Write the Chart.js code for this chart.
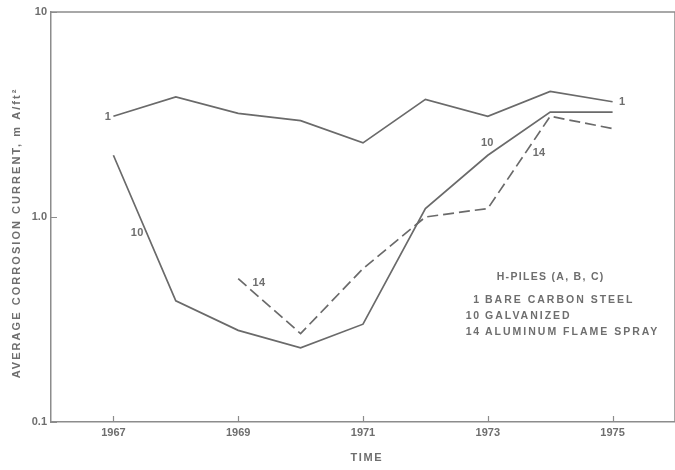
<!DOCTYPE html>
<html>
<head>
<meta charset="utf-8">
<script src="https://cdn.jsdelivr.net/npm/chart.js@4/dist/chart.umd.min.js"></script>
<style>
  html, body { margin: 0; padding: 0; background: #ffffff; overflow: hidden; }
  #wrap { width: 675px; height: 470px; }
</style>
</head>
<body>
<div id="wrap"><canvas id="c" width="675" height="470"></canvas></div>
<script>
// Survey years and average corrosion current (mA/ft²) for each H-pile coating
const years = [1967, 1968, 1969, 1970, 1971, 1972, 1973, 1974, 1975];
const bareCarbonSteel = [3.1, 3.85, 3.2, 2.95, 2.3, 3.75, 3.1, 4.1, 3.65];
const galvanized = [2.0, 0.39, 0.28, 0.23, 0.30, 1.1, 2.0, 3.25, 3.25];
const aluminumFlameSpray = [null, null, 0.5, 0.27, 0.56, 1.0, 1.1, 3.1, 2.7];

const yearTicks = [1967, 1969, 1971, 1973, 1975];
const currentTicks = [0.1, 1, 10];
const currentTickLabels = ['0.1', '1.0', '10'];

const legendTitle = 'H-PILES (A, B, C)';
const legendNumbers = ['1', '10', '14'];
const legendNames = ['BARE CARBON STEEL', 'GALVANIZED', 'ALUMINUM FLAME SPRAY'];

const INK = '#6a6a6a';
const TEXT = '#6e6e6e';
const FONT = '"Liberation Sans", Arial, sans-serif';

function points(values) {
  return years.map((yr, i) => ({ x: yr, y: values[i] }));
}

// Curve tags placed next to the lines, in data coordinates
const curveTags = [
  { text: '1', x: 1966.91, y: 3.07 },
  { text: '1', x: 1975.15, y: 3.64 },
  { text: '10', x: 1967.38, y: 0.835 },
  { text: '10', x: 1972.99, y: 2.29 },
  { text: '14', x: 1969.33, y: 0.476 },
  { text: '14', x: 1973.82, y: 2.05 }
];

function spacedText(ctx, str, x, y, spacing, align) {
  ctx.save();
  ctx.letterSpacing = spacing + 'px';
  let w = ctx.measureText(str).width;
  if ('letterSpacing' in ctx) w -= spacing; // trailing gap
  let sx = x;
  if (align === 'center') sx = x - w / 2;
  else if (align === 'right') sx = x - w;
  ctx.textAlign = 'left';
  ctx.fillText(str, sx, y);
  ctx.restore();
}

const decorations = {
  id: 'decorations',
  afterDatasetsDraw(chart) {
    const { ctx, chartArea: a, scales } = chart;
    const xs = scales.x, ys = scales.y;
    ctx.save();

    // top and right frame
    ctx.strokeStyle = '#8c8c8c';
    ctx.lineWidth = 1.5;
    ctx.beginPath();
    ctx.moveTo(a.left, a.top);
    ctx.lineTo(a.right, a.top);
    ctx.lineTo(a.right, a.bottom);
    ctx.stroke();

    // inward tick marks
    ctx.lineWidth = 1.2;
    ctx.beginPath();
    yearTicks.forEach(v => {
      const px = Math.round(xs.getPixelForValue(v)) + 0.5;
      ctx.moveTo(px, a.bottom);
      ctx.lineTo(px, a.bottom - 6);
    });
    currentTicks.forEach(v => {
      const py = Math.round(ys.getPixelForValue(v)) + 0.5;
      ctx.moveTo(a.left, py);
      ctx.lineTo(a.left + 6, py);
    });
    ctx.stroke();

    ctx.fillStyle = TEXT;
    ctx.textBaseline = 'middle';

    // curve tags
    ctx.font = 'bold 11px ' + FONT;
    curveTags.forEach(t => {
      spacedText(ctx, t.text, xs.getPixelForValue(t.x), ys.getPixelForValue(t.y), 0.3, 'center');
    });

    // key block
    ctx.font = 'bold 10.5px ' + FONT;
    const kx = a.left + 428, ky = a.top + 265;
    spacedText(ctx, legendTitle, kx + 71, ky, 1.3, 'center');
    legendNames.forEach((name, i) => {
      const y = ky + 23 + i * 16;
      spacedText(ctx, legendNumbers[i], kx, y, 1.5, 'right');
      spacedText(ctx, name, kx + 6, y, 2, 'left');
    });

    // axis titles
    ctx.font = 'bold 11px ' + FONT;
    spacedText(ctx, 'TIME', (a.left + a.right) / 2 + 3, 458, 1.6, 'center');
    ctx.translate(17, a.top + 222);
    ctx.rotate(-Math.PI / 2);
    spacedText(ctx, 'AVERAGE CORROSION CURRENT, m A/ft²', 0, 0, 2.05, 'center');
    ctx.restore();
  }
};

new Chart(document.getElementById('c'), {
  type: 'line',
  data: {
    datasets: [
      { label: 'Bare carbon steel', data: points(bareCarbonSteel) },
      { label: 'Galvanized', data: points(galvanized) },
      { label: 'Aluminum flame spray', data: points(aluminumFlameSpray), borderDash: [11, 5] }
    ]
  },
  options: {
    responsive: false,
    animation: false,
    devicePixelRatio: 1,
    layout: { padding: { top: 12, left: 0, right: 0, bottom: 0 } },
    elements: {
      line: { borderColor: INK, borderWidth: 1.7, tension: 0, fill: false },
      point: { radius: 0, hoverRadius: 0 }
    },
    plugins: { legend: { display: false }, tooltip: { enabled: false } },
    scales: {
      x: {
        type: 'linear',
        min: 1966,
        max: 1976,
        afterBuildTicks: s => { s.ticks = yearTicks.map(v => ({ value: v })); },
        afterFit: s => { s.height = 48; },
        grid: { display: false, drawTicks: false },
        border: { display: true, color: '#8c8c8c', width: 1.5 },
        ticks: {
          color: TEXT,
          font: { family: FONT, size: 11, weight: 'bold' },
          padding: 4,
          maxRotation: 0,
          callback: v => String(v)
        }
      },
      y: {
        type: 'logarithmic',
        min: 0.1,
        max: 10,
        afterBuildTicks: s => { s.ticks = currentTicks.map(v => ({ value: v })); },
        afterFit: s => { s.width = 51; },
        grid: { display: false, drawTicks: false },
        border: { display: true, color: '#8c8c8c', width: 1.5 },
        ticks: {
          color: TEXT,
          font: { family: FONT, size: 11, weight: 'bold' },
          padding: 4,
          callback: v => currentTickLabels[currentTicks.indexOf(v)] ?? ''
        }
      }
    }
  },
  plugins: [decorations]
});
</script>
</body>
</html>
